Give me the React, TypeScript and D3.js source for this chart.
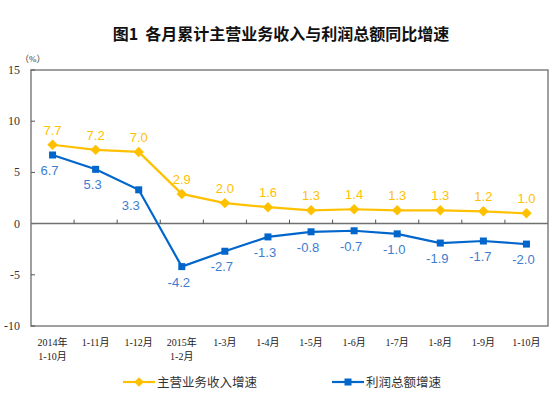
import * as d3 from 'd3';
import React, { useRef, useEffect } from 'react';

const categories = ['2014年|1-10月', '1-11月', '1-12月', '2015年|1-2月', '1-3月', '1-4月', '1-5月', '1-6月', '1-7月', '1-8月', '1-9月', '1-10月']
const revenue = [7.7, 7.2, 7.0, 2.9, 2.0, 1.6, 1.3, 1.4, 1.3, 1.3, 1.2, 1.0]
const profit = [6.7, 5.3, 3.3, -4.2, -2.7, -1.3, -0.8, -0.7, -1.0, -1.9, -1.7, -2.0]
const yTicks = [15, 10, 5, 0, -5, -10]

const YELLOW = '#FFC000'
const BLUE = '#0066CC'
const BLUE_LABEL = '#3C7DD0'
const SERIF = '"Liberation Serif", "Noto Sans CJK SC", serif'
const SANS = '"Liberation Sans", Arial, sans-serif'
const CJK = '"Noto Sans CJK SC", sans-serif'

export default function App() {
    const ref = useRef<HTMLDivElement>(null)

    useEffect(() => {
        d3.select(ref.current).selectAll('svg').remove()

        const W = 550, H = 394
        const margin = { top: 70, right: 2, bottom: 68, left: 31 }
        const width = W - margin.left - margin.right
        const height = H - margin.top - margin.bottom

        const root = d3.select(ref.current)
            .append('svg')
            .attr('width', W)
            .attr('height', H)
            .style('display', 'block')
            .style('background', '#fff')

        root.append('text')
            .attr('x', 281)
            .attr('y', 40)
            .attr('text-anchor', 'middle')
            .style('font-family', CJK)
            .style('font-size', '16px')
            .style('font-weight', 'bold')
            .style('white-space', 'pre')
            .attr('fill', '#111')
            .text('图1  各月累计主营业务收入与利润总额同比增速')

        root.append('text')
            .attr('x', 20)
            .attr('y', 62)
            .style('font-family', SERIF)
            .style('font-size', '9px')
            .attr('fill', '#333')
            .text('（%）')

        const svg = root.append('g')
            .attr('transform', 'translate(' + margin.left + ',' + margin.top + ')')

        const x = d3.scaleBand()
            .domain(categories)
            .range([0, width])

        const y = d3.scaleLinear()
            .domain([-10, 15])
            .range([height, 0])

        // box
        svg.append('rect')
            .attr('x', 0)
            .attr('y', 0)
            .attr('width', width)
            .attr('height', height)
            .attr('fill', 'none')
            .attr('stroke', '#808080')
            .attr('stroke-width', 1.5)

        // y ticks + labels
        svg.selectAll('.ytick')
            .data(yTicks)
            .enter().append('line')
            .attr('x1', 0)
            .attr('x2', 4)
            .attr('y1', d => y(d))
            .attr('y2', d => y(d))
            .attr('stroke', '#555')

        svg.selectAll('.ylab')
            .data(yTicks)
            .enter().append('text')
            .attr('x', -11)
            .attr('y', d => y(d) + 4)
            .attr('text-anchor', 'end')
            .style('font-family', SERIF)
            .style('font-size', '12px')
            .attr('fill', '#333')
            .text(d => d)

        // zero line
        svg.append('line')
            .attr('x1', 0)
            .attr('x2', width)
            .attr('y1', y(0))
            .attr('y2', y(0))
            .attr('stroke', '#707070')
            .attr('stroke-width', 1.5)

        svg.selectAll('.xtick')
            .data(categories.slice(1))
            .enter().append('line')
            .attr('x1', d => x(d))
            .attr('x2', d => x(d))
            .attr('y1', y(0))
            .attr('y2', y(0) - 4)
            .attr('stroke', '#555')

        // x labels
        const xl = svg.selectAll('.xlab')
            .data(categories)
            .enter().append('text')
            .attr('text-anchor', 'middle')
            .style('font-family', SERIF)
            .style('font-size', '10px')
            .attr('fill', '#222')

        xl.each(function (d) {
            const parts = d.split('|')
            const t = d3.select(this)
            parts.forEach((p, i) => {
                t.append('tspan')
                    .attr('x', x(d) + x.bandwidth() / 2)
                    .attr('y', height + 20 + i * 14)
                    .text(p)
            })
        })

        const cx = (i: number) => x(categories[i]) + x.bandwidth() / 2

        const line = d3.line<number>()
            .x((d, i) => cx(i))
            .y(d => y(d))

        // revenue
        svg.append('path')
            .datum(revenue)
            .attr('d', line)
            .attr('fill', 'none')
            .attr('stroke', YELLOW)
            .attr('stroke-width', 2.2)

        svg.selectAll('.rmark')
            .data(revenue)
            .enter().append('path')
            .attr('d', d3.symbol(d3.symbolDiamond2, 70))
            .attr('transform', (d, i) => 'translate(' + cx(i) + ',' + y(d) + ')')
            .attr('fill', YELLOW)

        svg.selectAll('.rlab')
            .data(revenue)
            .enter().append('text')
            .attr('x', (d, i) => cx(i))
            .attr('y', d => y(d) - 10)
            .attr('text-anchor', 'middle')
            .style('font-family', SANS)
            .style('font-size', '13px')
            .attr('fill', YELLOW)
            .text(d => d.toFixed(1))

        // profit
        svg.append('path')
            .datum(profit)
            .attr('d', line)
            .attr('fill', 'none')
            .attr('stroke', BLUE)
            .attr('stroke-width', 2.2)

        svg.selectAll('.pmark')
            .data(profit)
            .enter().append('rect')
            .attr('x', (d, i) => cx(i) - 3.5)
            .attr('y', d => y(d) - 3.5)
            .attr('width', 7)
            .attr('height', 7)
            .attr('fill', BLUE)

        svg.selectAll('.plab')
            .data(profit)
            .enter().append('text')
            .attr('x', (d, i) => cx(i) - (i === 2 ? 8 : 3))
            .attr('y', d => y(d) + 20)
            .attr('text-anchor', 'middle')
            .style('font-family', SANS)
            .style('font-size', '13px')
            .attr('fill', BLUE_LABEL)
            .text(d => d.toFixed(1))

        // legend
        const lg = root.append('g')
        const items = [
            { name: '主营业务收入增速', color: YELLOW, x0: 123, diamond: true },
            { name: '利润总额增速', color: BLUE, x0: 332, diamond: false }
        ]
        items.forEach(it => {
            lg.append('line')
                .attr('x1', it.x0)
                .attr('x2', it.x0 + 32)
                .attr('y1', 382)
                .attr('y2', 382)
                .attr('stroke', it.color)
                .attr('stroke-width', 2.2)
            if (it.diamond) {
                lg.append('path')
                    .attr('d', d3.symbol(d3.symbolDiamond2, 60))
                    .attr('transform', 'translate(' + (it.x0 + 16) + ',382)')
                    .attr('fill', it.color)
            } else {
                lg.append('rect')
                    .attr('x', it.x0 + 12.5)
                    .attr('y', 378.5)
                    .attr('width', 7)
                    .attr('height', 7)
                    .attr('fill', it.color)
            }
            lg.append('text')
                .attr('x', it.x0 + 34)
                .attr('y', 387)
                .style('font-family', CJK)
                .style('font-size', '12.5px')
                .attr('fill', '#333')
                .text(it.name)
        })
    }, [])

    return (
        <div ref={ref} style={{ position: 'absolute', left: 0, top: 0 }}>
        </div>
    )
}
